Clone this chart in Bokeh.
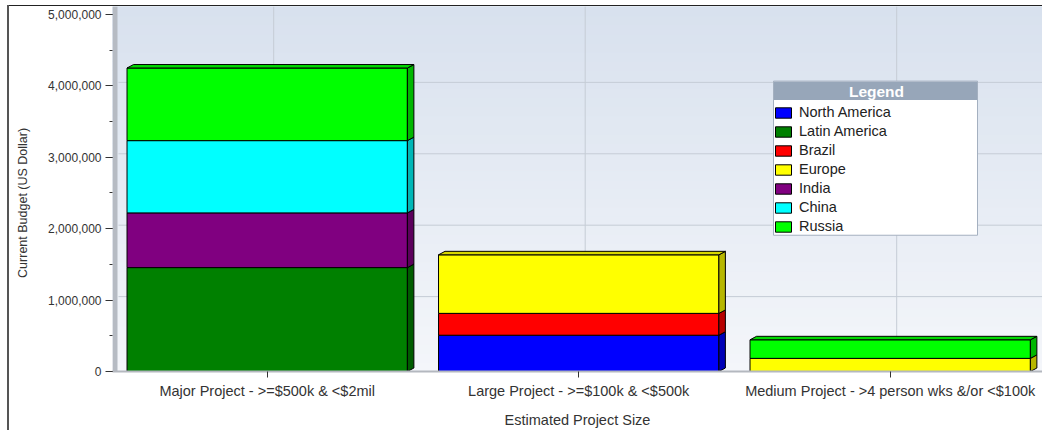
import numpy as np
from bokeh.plotting import figure
from bokeh.models import (ColumnDataSource, FixedTicker, SingleIntervalTicker,
                          NumeralTickFormatter, Legend, LegendItem, BoxAnnotation,
                          Label, Range1d)
from bokeh.embed import file_html
from bokeh.resources import INLINE

# ---------------- data ----------------
categories = ["Major Project - >=$500k & <$2mil",
              "Large Project - >=$100k & <$500k",
              "Medium Project - >4 person wks &/or <$100k"]
series_names = ["North America", "Latin America", "Brazil", "Europe",
                "India", "China", "Russia"]
series_colors = ["#0000ff", "#008000", "#ff0000", "#ffff00",
                 "#800080", "#00ffff", "#00ff00"]
north_america = [0, 508000, 0]
latin_america = [1455000, 0, 0]
brazil = [0, 306000, 0]
europe = [0, 820000, 184000]
india = [766000, 0, 0]
china = [1012000, 0, 0]
russia = [1017000, 0, 260000]
series_values = [north_america, latin_america, brazil, europe, india, china, russia]
grid_values = [1000000, 2000000, 3000000, 4000000]
y_title = "Current Budget (US Dollar)"
x_title = "Estimated Project Size"

# ---------------- geometry / style ----------------
FONT = "Liberation Sans"
W, H = 1042, 430
FL, FR, FT, FB = 112, 0, 6, 57
FRAME_L = FL
FRAME_B = H - FB
PPX = 311.5
PPY = 71.8 / 1e6
X_START = -(266.7 - FRAME_L) / PPX
X_END = X_START + (W - FL - FR) / PPX
Y_START = 0
Y_END = (H - FT - FB) / PPY
BAR_W = 0.9
DXU = 6.5 / PPX
DYU = 3.5 / PPY


def sx(px):
    return X_START + (px - FRAME_L) / PPX


def sy(py):
    return Y_START + (FRAME_B - py) / PPY


def shade(hexc, f):
    h = hexc.lstrip("#")
    r, g, b = (int(h[i:i + 2], 16) for i in (0, 2, 4))
    return "#%02x%02x%02x" % (int(r * f), int(g * f), int(b * f))


def mix(c1, c2, t):
    a = [int(c1[i:i + 2], 16) for i in (1, 3, 5)]
    b = [int(c2[i:i + 2], 16) for i in (1, 3, 5)]
    return "#%02x%02x%02x" % tuple(int(round(a[k] + (b[k] - a[k]) * t)) for k in range(3))


p = figure(width=W, height=H, output_backend="svg", toolbar_location=None,
           x_range=Range1d(X_START, X_END), y_range=Range1d(Y_START, Y_END),
           min_border_left=FL, min_border_right=FR, min_border_top=FT,
           min_border_bottom=FB)
# outer chart frame lines (left and top), drawn behind a transparent border area
p.styles = {"background": "linear-gradient(#555555,#555555) 7px 5px / 2px 100% no-repeat, "
                          "linear-gradient(#222222,#222222) 7px 5px / 100% 1px no-repeat, "
                          "#ffffff"}
p.border_fill_alpha = 0
p.outline_line_color = None
p.background_fill_color = "#e6ebf3"
p.xgrid.grid_line_color = None
p.ygrid.grid_line_color = None

# gradient background
nb = 40
edges = np.linspace(Y_START, Y_END, nb + 1)
bg_cols = [mix("#d8e1ee", "#f4f6fa", 1 - (i + 0.5) / nb) for i in range(nb)]
p.quad(left=X_START, right=X_END, bottom=edges[:-1], top=edges[1:],
       fill_color=bg_cols, line_color=bg_cols, line_width=1)

# gridlines on back plane
p.segment(x0=sx(FRAME_L + 6), x1=X_END, y0=[g + DYU for g in grid_values],
          y1=[g + DYU for g in grid_values], line_color="#c5ccd6", line_width=1)
p.segment(x0=[i + DXU for i in range(len(categories))],
          x1=[i + DXU for i in range(len(categories))],
          y0=Y_START + DYU, y1=Y_END, line_color="#c5ccd6", line_width=1)

# left wall
p.quad(left=sx(FRAME_L), right=sx(FRAME_L + 5), bottom=Y_START, top=Y_END,
       fill_color="#b6bbc3", line_color=None)

# bars
cum = [0.0] * len(categories)
tops = [None] * len(categories)
front_renderers = []
for name, col, vals in zip(series_names, series_colors, series_values):
    left, right, bottom, top, sxs, sys_ = [], [], [], [], [], []
    for i, v in enumerate(vals):
        b0 = cum[i]
        t0 = b0 + v
        if v > 0:
            l, r = i - BAR_W / 2, i + BAR_W / 2
            left.append(l); right.append(r); bottom.append(b0); top.append(t0)
            sxs.append([r, r + DXU, r + DXU, r])
            sys_.append([b0, b0 + DYU, t0 + DYU, t0])
            tops[i] = (t0, col)
        cum[i] = t0
    src = ColumnDataSource(dict(left=left, right=right, bottom=bottom, top=top))
    r_ = p.quad(left="left", right="right", bottom="bottom", top="top", source=src,
                fill_color=col, line_color="black", line_width=1)
    front_renderers.append(r_)
    p.patches(xs=sxs, ys=sys_, fill_color=shade(col, 0.72), line_color="black",
              line_width=1)

# top faces
txs, tys, tcs = [], [], []
for i, tc in enumerate(tops):
    if tc is None:
        continue
    t0, col = tc
    l, r = i - BAR_W / 2, i + BAR_W / 2
    txs.append([l, l + DXU, r + DXU, r])
    tys.append([t0, t0 + DYU, t0 + DYU, t0])
    tcs.append(shade(col, 0.85))
p.patches(xs=txs, ys=tys, fill_color=tcs, line_color="black", line_width=1)

# axes
p.yaxis.ticker = SingleIntervalTicker(interval=1000000, num_minor_ticks=2)
p.yaxis.formatter = NumeralTickFormatter(format="0,0")
p.yaxis.axis_line_color = None
p.yaxis.major_tick_out = 7
p.yaxis.major_tick_in = 0
p.yaxis.minor_tick_out = 3
p.yaxis.minor_tick_in = 0
p.yaxis.major_tick_line_color = "#333333"
p.yaxis.minor_tick_line_color = "#333333"
p.yaxis.major_label_standoff = 4
p.yaxis.major_label_text_font = FONT
p.yaxis.major_label_text_font_size = "12px"
p.yaxis.major_label_text_color = "#333333"
# trailing no-break spaces shift the rotated title slightly downwards
p.yaxis.axis_label = y_title + "\u00a0" * 8
p.yaxis.axis_label_text_font = FONT
p.yaxis.axis_label_text_font_size = "12.5px"
p.yaxis.axis_label_text_font_style = "normal"
p.yaxis.axis_label_text_color = "#333333"
p.yaxis.axis_label_standoff = 15

p.xaxis.ticker = FixedTicker(ticks=list(range(len(categories))))
p.xaxis.major_label_overrides = {i: c for i, c in enumerate(categories)}
p.xaxis.axis_line_color = "#b4b8bf"
p.xaxis.axis_line_width = 2
p.xaxis.major_tick_out = 6
p.xaxis.major_tick_in = 0
p.xaxis.major_tick_line_color = "#333333"
p.xaxis.major_label_standoff = 5
p.xaxis.major_label_text_font = FONT
p.xaxis.major_label_text_font_size = "14.5px"
p.xaxis.major_label_text_color = "#333333"
p.xaxis.axis_label = x_title
p.xaxis.axis_label_text_font = FONT
p.xaxis.axis_label_text_font_size = "14.5px"
p.xaxis.axis_label_text_font_style = "normal"
p.xaxis.axis_label_text_color = "#333333"
p.xaxis.axis_label_standoff = 10

# legend box + header
p.add_layout(BoxAnnotation(left=sx(773), right=sx(977), top=sy(81), bottom=sy(236),
                           fill_color="white", fill_alpha=1, line_color="#a4b0c0",
                           line_width=1, line_alpha=1))
p.add_layout(BoxAnnotation(left=sx(773.5), right=sx(976.5), top=sy(81.5), bottom=sy(100),
                           fill_color="#97a6b9", fill_alpha=1, line_color=None))
p.add_layout(Label(x=sx(876), y=sy(91), text="Legend", text_align="center",
                   text_baseline="middle", text_font=FONT,
                   text_font_size="15.5px", text_font_style="bold",
                   text_color="white"))

legend = Legend(items=[LegendItem(label=n, renderers=[r])
                       for n, r in zip(series_names, front_renderers)],
                location=(773 - FRAME_L, FRAME_B - 237.5))
legend.background_fill_alpha = 0
legend.border_line_color = None
legend.label_text_font = FONT
legend.label_text_font_size = "14.5px"
legend.label_text_color = "#222222"
legend.glyph_width = 20
legend.glyph_height = 13
legend.label_height = 19
legend.label_standoff = 6
legend.spacing = 0
legend.padding = 2
legend.margin = 0
p.add_layout(legend)

open("out.html", "w").write(file_html(p, INLINE))
